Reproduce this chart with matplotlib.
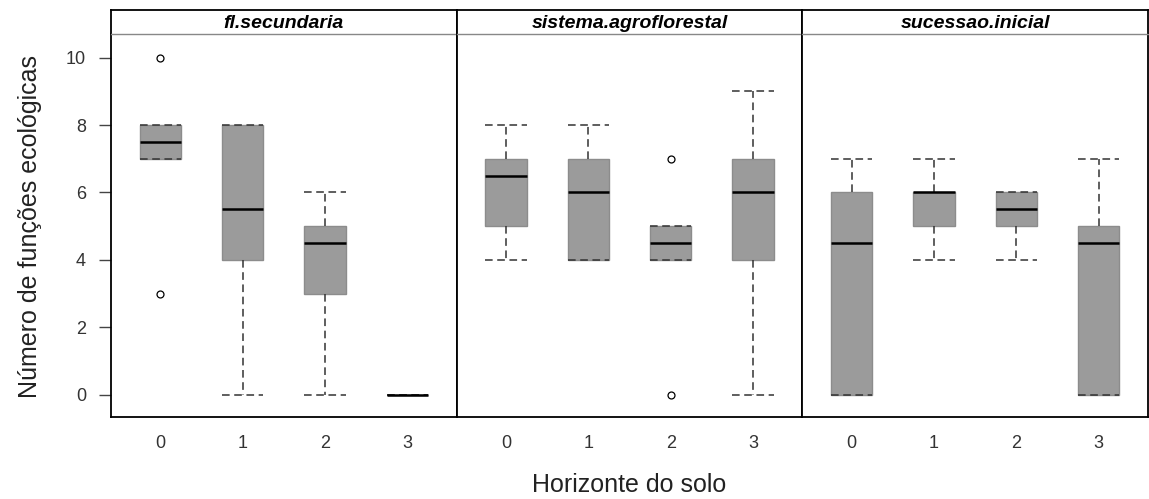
import matplotlib
matplotlib.use('Agg')
import matplotlib.pyplot as plt

plt.rcParams['font.family'] = ['Liberation Sans', 'DejaVu Sans']

panels = ['fl.secundaria', 'sistema.agroflorestal', 'sucessao.inicial']
horizons = ['0', '1', '2', '3']

# box statistics, one row per panel, one value per soil horizon
q1 = [[7, 4, 3, 0], [5, 4, 4, 4], [0, 5, 5, 0]]
med = [[7.5, 5.5, 4.5, 0], [6.5, 6, 4.5, 6], [4.5, 6, 5.5, 4.5]]
q3 = [[8, 8, 5, 0], [7, 7, 5, 7], [6, 6, 6, 5]]
whislo = [[7, 0, 0, 0], [4, 4, 4, 0], [0, 4, 4, 0]]
whishi = [[8, 8, 6, 0], [8, 8, 5, 9], [7, 7, 6, 7]]
fliers = [[[10, 3], [], [], []],
          [[], [], [7, 0], []],
          [[], [], [], []]]

W, H = 1149, 499
fig = plt.figure(figsize=(W / 100, H / 100), dpi=100)

left_px, right_px = 111, 1148
top_px, strip_px, bottom_px = 10, 34, 417
pw = (right_px - left_px) / 3

dash = (0, (5, 3))
for i, name in enumerate(panels):
    x0 = (left_px + i * pw) / W
    ax = fig.add_axes([x0, 1 - bottom_px / H, pw / W, (bottom_px - strip_px) / H])
    st = fig.add_axes([x0, 1 - strip_px / H, pw / W, (strip_px - top_px) / H])

    stats = []
    for j in range(len(horizons)):
        stats.append(dict(q1=q1[i][j], med=med[i][j], q3=q3[i][j],
                          whislo=whislo[i][j], whishi=whishi[i][j],
                          fliers=fliers[i][j]))
    ax.bxp(stats, positions=range(len(horizons)), widths=0.5, capwidths=0.5,
           patch_artist=True,
           boxprops=dict(facecolor='#9b9b9b', edgecolor='#8c8c8c', lw=1),
           medianprops=dict(color='black', lw=1.8),
           whiskerprops=dict(color='#333333', lw=1.1, linestyle=dash),
           capprops=dict(color='#333333', lw=1.1, linestyle=dash),
           flierprops=dict(marker='o', markerfacecolor='none',
                           markeredgecolor='black', markersize=5, mew=0.9))

    ax.set_xlim(-0.6, 3.6)
    ax.set_ylim(-0.66, 10.7)
    ax.set_xticks(range(len(horizons)))
    ax.set_xticklabels(horizons)
    ax.tick_params(axis='x', length=0, pad=13, labelsize=13, labelcolor='#333333')
    if i == 0:
        ax.set_yticks([0, 2, 4, 6, 8, 10])
        ax.tick_params(axis='y', length=9, width=1, pad=9, labelsize=13,
                       labelcolor='#333333', color='#444444')
    else:
        ax.set_yticks([])
    for sp in ax.spines.values():
        sp.set_color('black')
        sp.set_linewidth(1.3)

    st.set_xticks([])
    st.set_yticks([])
    for sp in st.spines.values():
        sp.set_color('black')
        sp.set_linewidth(1.3)
    st.spines['bottom'].set_color('#888888')
    st.spines['bottom'].set_linewidth(1)
    st.text(0.5, 0.45, name, transform=st.transAxes, ha='center', va='center',
            fontsize=14, fontweight='bold', fontstyle='italic')

fig.text(30 / W, 1 - 226 / H, 'Número de funções ecológicas', rotation=90,
         ha='center', va='center', fontsize=18, color='#222222')
fig.text(629 / W, 1 - 485 / H, 'Horizonte do solo', ha='center', va='center',
         fontsize=18, color='#222222')

fig.savefig('out.png', dpi=100)
